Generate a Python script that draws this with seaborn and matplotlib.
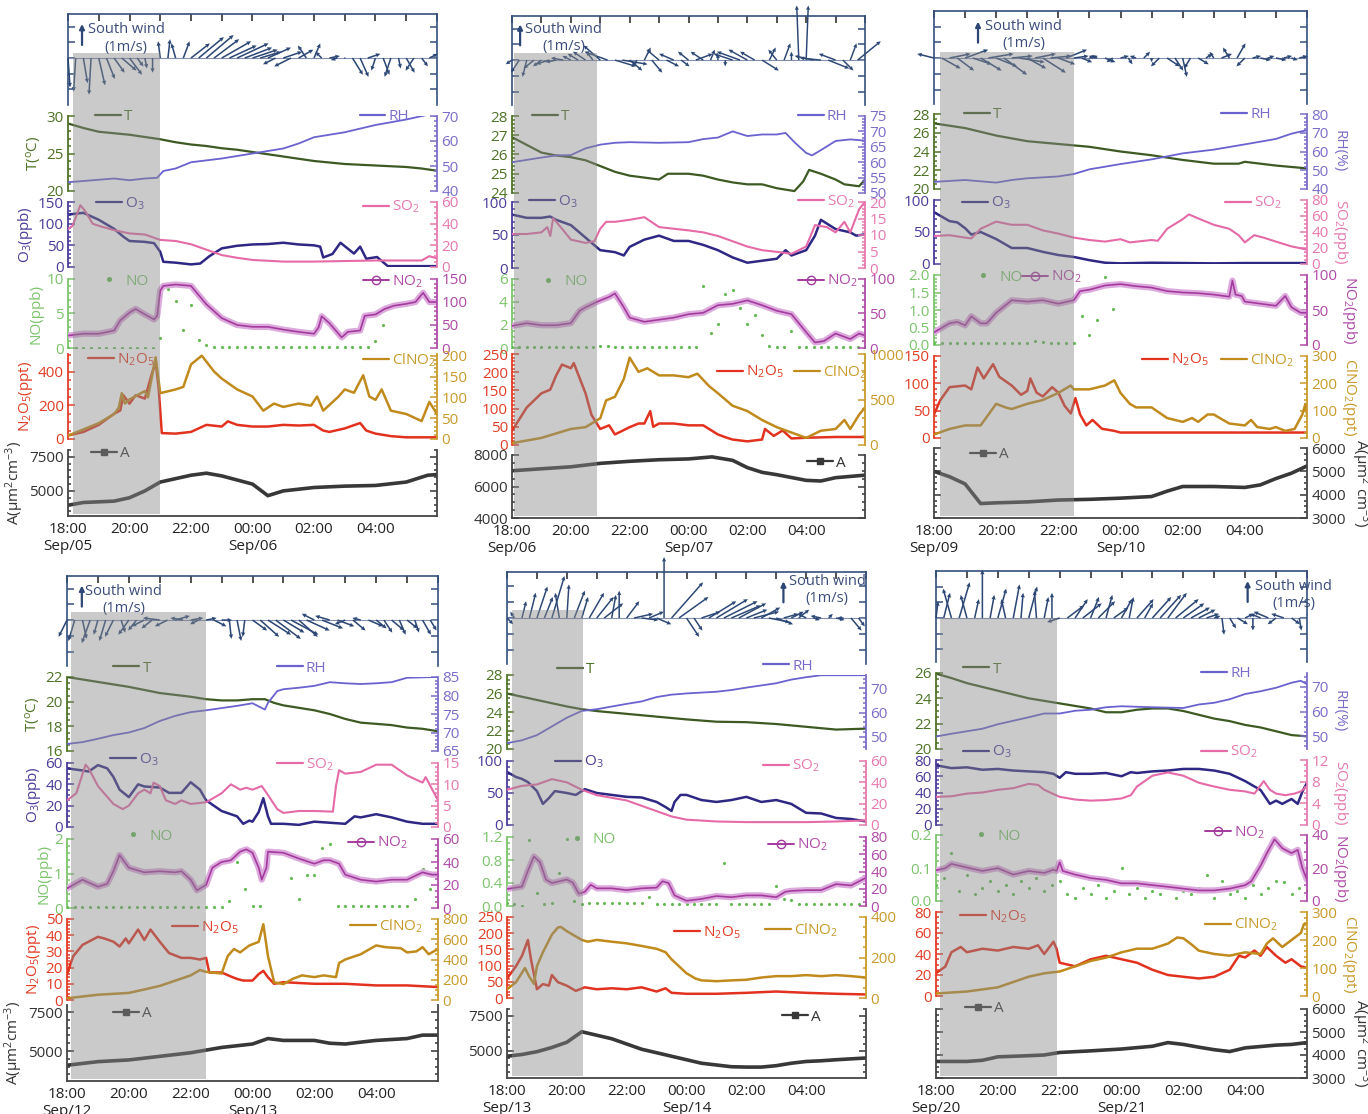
import numpy as np
import pandas as pd
import matplotlib
matplotlib.use("Agg")
import matplotlib.pyplot as plt
import matplotlib.transforms as mtransforms
from matplotlib.lines import Line2D
from matplotlib.patches import Rectangle
from matplotlib.ticker import MultipleLocator, AutoMinorLocator, FuncFormatter, FormatStrFormatter
import seaborn as sns

sns.set_style("white")
plt.rcParams["font.family"] = ["Open Sans", "DejaVu Sans"]
plt.rcParams["mathtext.default"] = "regular"
plt.rcParams["font.size"] = 11

nan = np.nan

# ---------------------------------------------------------------------------
# Night 1: Sep/05 18:00 - Sep/06 06:00   (hour after 18:00, value)
# ---------------------------------------------------------------------------
t_0905 = [(0, 29.0), (0.5, 28.4), (1, 27.9), (1.5, 27.7), (2, 27.5), (2.5, 27.2), (3, 26.9), (3.5, 26.5),
          (4, 26.2), (4.5, 26.0), (5, 25.7), (5.5, 25.5), (6, 25.2), (6.5, 24.9), (7, 24.6), (7.5, 24.3),
          (8, 24.0), (8.5, 23.8), (9, 23.6), (9.5, 23.5), (10, 23.4), (10.5, 23.3), (11, 23.2), (11.5, 23.0), (12, 22.7)]
rh_0905 = [(0, 43.5), (1, 44.5), (1.5, 45.0), (2, 44.3), (2.5, 45.0), (2.9, 45.3), (3.1, 48.0), (3.5, 49.0), (4, 51.5),
           (5, 53.0), (6, 55.0), (7, 57.0), (7.5, 59.0), (8, 61.5), (9, 63.5), (10, 66.4), (11, 68.6), (11.7, 70.5), (12, 70.0)]
o3_0905 = [(0, 121), (0.5, 125), (1, 109), (1.5, 88), (1.8, 70), (2, 60), (2.5, 58), (2.8, 55), (3.0, 35), (3.1, 12),
           (3.5, 10), (4.0, 6), (4.3, 8), (4.6, 25), (5, 43), (5.5, 49), (6, 52), (6.5, 53), (7, 56), (7.5, 52), (8, 50),
           (8.2, 47), (8.3, 22), (8.6, 30), (8.86, 56), (9.3, 31), (9.5, 47), (9.7, 19), (10.05, 23), (10.4, 2), (12, 2)]
so2_0905 = [(0, 35), (0.15, 38), (0.4, 57), (0.55, 52), (0.8, 40), (1, 38), (1.5, 34), (2, 31), (2.5, 30), (3, 25),
            (3.5, 24), (4, 21), (4.5, 16), (5, 11), (5.5, 8.5), (6, 6.5), (7, 5), (8, 5), (9, 5.5), (10, 6), (11, 6),
            (11.5, 6), (11.75, 10), (12, 8)]
no_0905 = [0.05, 0.05, 0.05, 0.05, 0.05, 0.05, 0.05, 0.05, 0.05, 0.05, 0.05, 0.05,
           1.5, 8.5, 6.8, 2.6, 6.2, 1.2, 0.4, 0.2,
           0.1, 0.1, 0.1, 0.1, 0.1, 0.1, 0.1, 0.1, 0.1, 0.1,
           0.1, 0.1, 0.1, 0.1, 0.1, 0.1, 0.1, 0.1, 0.1, 0.1,
           1.0, 3.3, nan, nan, nan, nan, nan, nan, nan]
no2_0905 = [(0, 27), (0.5, 31), (1, 31), (1.5, 38), (1.7, 60), (2, 77), (2.2, 85), (2.5, 73), (2.8, 62), (2.9, 70),
            (3.0, 125), (3.1, 135), (3.5, 138), (4.0, 135), (4.5, 95), (5, 65), (5.5, 50), (6, 46), (6.5, 46), (7, 40),
            (7.5, 35), (8, 31), (8.15, 45), (8.25, 69), (8.5, 54), (8.9, 23), (9.1, 35), (9.5, 38), (9.65, 70), (10, 73),
            (10.3, 85), (10.6, 92), (11, 96), (11.3, 100), (11.55, 120), (11.75, 100), (12, 100)]
n2o5_0905 = [(0, 21), (0.5, 42), (1, 84), (1.5, 150), (1.7, 170), (1.8, 260), (2.0, 210), (2.2, 260), (2.5, 240),
             (2.7, 370), (2.85, 460), (2.95, 300), (3.05, 35), (3.5, 32), (4, 42), (4.5, 84), (5, 74), (5.2, 105),
             (5.5, 84), (6, 74), (6.5, 74), (7, 84), (7.5, 80), (8, 84), (8.3, 50), (8.5, 42), (9, 63), (9.5, 95),
             (9.7, 50), (10, 32), (10.5, 17), (11, 10), (12, 10)]
clno2_0905 = [(0, 8), (1, 38), (1.5, 60), (1.65, 75), (1.75, 110), (1.85, 85), (2, 95), (2.5, 115), (2.6, 100),
              (2.85, 196), (3.0, 110), (3.5, 119), (3.75, 125), (4, 179), (4.35, 200), (4.75, 162), (5, 145),
              (5.5, 119), (6, 102), (6.35, 68), (6.7, 85), (7, 77), (7.5, 85), (7.9, 80), (8.1, 102), (8.3, 68),
              (8.8, 102), (9, 119), (9.3, 111), (9.6, 153), (9.8, 102), (10, 94), (10.2, 119), (10.5, 68), (11, 60),
              (11.5, 43), (11.75, 89), (12, 60)]
a_0905 = [(0, 3950), (0.5, 4150), (1, 4200), (1.5, 4250), (2, 4500), (2.5, 5000), (3, 5650), (4, 6150), (4.5, 6300),
          (5, 6100), (6, 5500), (6.5, 4650), (7, 5000), (8, 5250), (9, 5350), (10, 5400), (11, 5650), (11.7, 6150), (12, 6200)]
u_0905 = [0.1, -0.1, 0.2, -0.1, 0.3, 0.4, 0.5, 0.7, 0.6, 0.3, 0.1, 0.0, -0.1, 0.1, -0.2, 0.3, 0.9, 1.2, 1.3, 1.2,
          1.4, 1.3, 1.5, 1.3, 1.2, 1.0, 1.1, -0.6, 0.9, -0.8, 0.7, -0.4, 0.3, -0.3, 0.5, -0.3, 0.0, 0.5, 0.4, 0.6,
          -0.2, 0.3, -0.3, 0.1, 0.4, -0.4, 0.3, 0.4]
v_0905 = [-1.4, -1.6, -1.2, -1.75, -1.3, -1.0, -0.7, -0.6, -0.8, -0.4, -0.5, -0.7, 0.8, 0.9, 0.7, 0.8, 0.7, 1.0,
          1.1, 0.9, 0.8, 0.6, 0.7, 0.5, 0.4, 0.3, 0.5, -0.3, 0.3, -0.4, 0.4, 0.6, 0.7, 0.3, 0.1, -0.1, 0.0, -0.8,
          -0.9, 0.2, -0.6, -0.8, -0.9, -0.5, -0.7, -0.6, -0.4, 0.2]

# ---------------------------------------------------------------------------
# Night 2: Sep/06 - Sep/07
# ---------------------------------------------------------------------------
t_0906 = [(0, 26.9), (0.5, 26.5), (1, 26.1), (1.5, 25.95), (2, 25.86), (2.5, 25.7), (3, 25.4), (3.5, 25.1), (4, 24.9),
          (4.5, 24.8), (5, 24.7), (5.3, 25.0), (6, 25.0), (6.5, 24.9), (7, 24.7), (7.5, 24.55), (8, 24.45), (8.5, 24.45),
          (9, 24.25), (9.6, 24.1), (9.9, 24.6), (10.1, 25.2), (10.5, 25.0), (11, 24.7), (11.3, 24.45), (11.8, 24.35), (12, 24.7)]
rh_0906 = [(0, 60), (1, 61.5), (1.5, 62.2), (2, 62.3), (2.5, 64.5), (3, 65.7), (3.5, 66.3), (4, 66.5), (5, 66.3),
           (6, 66.5), (6.5, 67.5), (7, 68), (7.5, 70), (8, 68.5), (8.5, 69), (9, 69), (9.3, 69.5), (9.6, 66.5),
           (10, 63), (10.2, 62.2), (10.6, 64.5), (11, 66.9), (11.5, 67.4), (12, 67)]
o3_0906 = [(0, 81), (0.5, 76), (1, 76), (1.3, 78), (1.5, 73), (2, 65), (2.5, 46), (3, 27), (3.5, 24), (3.8, 19),
           (4, 32), (4.5, 43), (5, 49), (5.5, 41), (6, 41), (6.5, 35), (7, 27), (7.5, 16), (8, 8), (8.5, 11), (9, 14),
           (9.3, 27), (9.5, 19), (10, 27), (10.3, 49), (10.5, 73), (11, 59), (11.5, 54), (11.7, 49), (12, 51)]
so2_0906 = [(0, 10.3), (0.5, 10.3), (1, 10.8), (1.2, 12.4), (1.3, 9.7), (1.4, 15.1), (1.7, 11.9), (2, 8.6), (2.5, 7.6),
            (2.8, 8.1), (3, 11.9), (3.2, 14), (3.5, 14), (4, 14.6), (4.5, 15.4), (5, 12.4), (5.5, 11.9), (6, 11.4),
            (6.5, 10.8), (7, 9.7), (7.5, 8.1), (8, 6.5), (8.5, 5.4), (9, 4.9), (9.5, 4.3), (10, 6.5), (10.3, 13),
            (10.7, 12.4), (11, 10.8), (11.3, 14), (11.5, 10.8), (11.8, 17.8), (12, 20)]
no_0906 = [0.05, 0.05, 0.05, 0.05, 0.05, 0.05, 0.05, 0.05, 0.05, 0.05, 0.05, 0.05,
           0.15, 0.2,
           0.05, 0.05, 0.05, 0.05, 0.05, 0.05, 0.05, 0.05, 0.05, 0.05, 0.05, 0.05,
           5.4, 1.3, 2.1, 4.7, 5.0, 3.5, 2.1, 2.9, 1.1,
           0.2, 0.05, 0.05, 1.5,
           0.05, 0.05, 0.05, 0.05, 0.05, 0.05, 0.05, 0.05, 0.05, 0.05]
no2_0906 = [(0, 32), (0.5, 36), (1, 33), (1.5, 33), (2, 36), (2.3, 54), (2.5, 59), (3, 69), (3.3, 74), (3.5, 79),
            (3.8, 59), (4, 44), (4.5, 38), (5, 41), (5.5, 44), (6, 49), (6.5, 51), (7, 62), (7.5, 64), (8, 69),
            (8.5, 62), (9, 54), (9.5, 49), (10, 23), (10.3, 8), (10.6, 10), (11, 21), (11.5, 13), (11.8, 21), (12, 18)]
n2o5_0906 = [(0, 39), (0.5, 103), (1, 142), (1.3, 152), (1.5, 191), (1.7, 221), (2, 211), (2.1, 225), (2.5, 142),
             (2.7, 83), (3, 44), (3.3, 54), (3.5, 29), (4, 49), (4.3, 59), (4.5, 59), (4.7, 93), (4.8, 50), (5, 59),
             (5.5, 59), (6, 54), (6.5, 54), (7, 29), (7.3, 20), (7.5, 15), (8, 10), (8.5, 15), (8.6, 44), (8.9, 25),
             (9.2, 40), (9.5, 18), (10, 20), (11, 22), (12, 22)]
clno2_0906 = [(0, 20), (1, 78), (2, 176), (2.5, 196), (3, 294), (3.2, 490), (3.5, 530), (3.8, 725), (4, 960),
              (4.3, 804), (4.6, 843), (5, 765), (5.5, 765), (6, 745), (6.3, 784), (6.7, 647), (7, 569), (7.5, 431),
              (8, 373), (8.5, 275), (9, 196), (9.5, 137), (10, 78), (10.5, 157), (11, 176), (11.3, 275), (11.5, 176),
              (11.8, 333), (12, 412)]
a_0906 = [(0, 7000), (2, 7250), (3, 7470), (4, 7600), (5, 7700), (6, 7750), (6.8, 7880), (7.5, 7660), (8, 7200),
          (8.5, 6900), (9, 6750), (10, 6390), (10.5, 6350), (11, 6560), (12, 6720)]
u_0906 = [-0.3, -0.4, -0.2, -0.5, -0.4, -0.6, -0.5, -0.6, -0.4, -0.5, -0.6, -0.3, -0.8, -1.1, 1.0, 1.2, 0.6, -0.2,
          0.3, 0.5, -0.6, 0.6, -0.7, 0.4, -0.5, 0.8, -0.6, 0.2, 0.0, 0.0, -0.9, -1.1, -0.9, -0.7, 0.8, 0.3, -0.4,
          0.3, 0.0, -0.1, 0.1, -0.9, -1.0, 1.0, -0.8, 0.5, 0.3, 1.1]
v_0906 = [-0.2, -0.6, -0.8, -0.4, -0.3, -0.2, -0.1, 0.1, 0.2, 0.3, 0.4, 0.4, 0.7, 0.4, -0.3, -0.2, -0.5, -0.3, 0.6,
          -0.6, 0.5, -0.3, 0.3, -0.3, 0.4, 0.3, 0.4, 0.5, 0.3, -0.3, 0.3, 0.4, 0.5, 0.4, -0.5, 0.6, 0.5, 0.8, 0.4,
          2.6, 2.6, 0.2, 0.1, -0.4, 0.3, -0.5, 0.8, 0.9]

# ---------------------------------------------------------------------------
# Night 3: Sep/09 - Sep/10
# ---------------------------------------------------------------------------
t_0909 = [(0, 27.0), (1, 26.5), (2, 25.7), (3, 25.1), (4, 24.8), (5, 24.5), (6, 24.0), (7, 23.6), (8, 23.1),
          (9, 22.7), (9.8, 22.7), (10, 22.9), (10.5, 22.7), (11, 22.5), (12, 22.2)]
rh_0909 = [(0, 43.8), (1, 44.8), (2, 43.4), (2.5, 44.8), (3, 45.7), (4, 46.7), (4.5, 48), (5, 50.5), (6, 53.3),
           (7, 55.8), (8, 59), (9, 61), (10, 63.8), (11, 66.7), (11.5, 69.5), (12, 71.4)]
o3_0909 = [(0, 81), (0.5, 67), (0.75, 65), (1, 56), (1.2, 46), (1.5, 50), (2, 39), (2.5, 25), (3, 25), (3.5, 19),
           (4, 14), (4.5, 11), (5, 6), (5.5, 2), (6, 1), (7, 2), (8, 1.5), (9, 1), (10, 1.5), (12, 1.5)]
so2_0909 = [(0, 35), (0.5, 36), (1, 33), (1.2, 32), (1.5, 44), (2, 53), (2.5, 49), (3, 49), (3.5, 42), (4, 38),
            (4.5, 33), (5, 30), (5.5, 28), (6, 31), (6.3, 27), (7, 30), (7.2, 29), (7.5, 44), (8, 56), (8.2, 62),
            (8.5, 57), (9, 49), (9.5, 44), (9.8, 36), (10, 27), (10.3, 36), (10.6, 33), (11, 28), (11.5, 22), (12, 18)]
no_0909 = [0.05, 0.05, 0.05, 0.05, 0.05, 0.05, 0.05, 0.05, 0.05, 0.05, 0.05, 0.05, 0.05,
           0.12, 0.1, 0.05, 0.05, 0.05, 0.05,
           0.82, 0.3, 0.72, 1.95, 1.03,
           nan, nan, nan, nan, nan, nan, nan, nan, nan, nan, nan, nan, nan,
           nan, nan, nan, nan, nan, nan, nan, nan, nan, nan, nan, nan]
no2_0909 = [(0, 18), (0.5, 31), (0.75, 33), (1, 28), (1.2, 41), (1.5, 31), (1.7, 31), (2, 46), (2.5, 64), (3, 62),
            (3.5, 64), (4, 59), (4.5, 64), (4.7, 77), (5, 79), (5.5, 85), (6, 87), (6.5, 84), (7, 82), (7.5, 77),
            (8, 75), (8.5, 74), (9, 72), (9.5, 69), (9.6, 92), (9.7, 72), (9.9, 70), (10, 62), (10.5, 59), (11, 56),
            (11.3, 70), (11.5, 54), (11.8, 46), (12, 46)]
n2o5_0909 = [(0, 43), (0.2, 69), (0.5, 93), (1, 96), (1.2, 89), (1.4, 129), (1.6, 109), (1.9, 135), (2.1, 112),
             (2.5, 96), (2.8, 79), (3, 86), (3.1, 109), (3.3, 83), (3.5, 76), (3.8, 93), (4, 83), (4.2, 59), (4.4, 45),
             (4.55, 73), (4.7, 43), (4.9, 23), (5.1, 33), (5.4, 17), (5.8, 13), (6, 10), (12, 10)]
clno2_0909 = [(0, 13), (0.5, 33), (1, 46), (1.5, 46), (2, 125), (2.3, 112), (2.5, 106), (3, 125), (3.5, 139),
              (4, 165), (4.4, 192), (4.5, 178), (5, 178), (5.5, 192), (5.8, 211), (6, 165), (6.3, 125), (6.5, 112),
              (7, 112), (7.5, 73), (8, 59), (8.3, 73), (8.5, 59), (8.8, 86), (9, 86), (9.3, 66), (9.5, 53), (10, 46),
              (10.2, 66), (10.4, 40), (10.8, 33), (11, 40), (11.3, 26), (11.6, 33), (11.85, 86), (11.95, 125), (12, 86)]
a_0909 = [(0, 5000), (0.5, 4770), (1, 4460), (1.5, 3620), (2, 3650), (3, 3690), (4, 3770), (5, 3800), (6, 3850),
          (7, 3920), (7.5, 4150), (8, 4350), (9, 4350), (10, 4310), (10.5, 4420), (11, 4690), (11.5, 4920), (12, 5230)]
u_0909 = [-0.8, 0.9, 1.0, 0.8, 1.1, 0.9, 1.0, 1.2, 1.0, 1.1, 1.0, 1.2, 0.9, 1.0, 1.1, 1.0, 0.8, 1.0, 0.7, 0.5,
          0.4, -0.4, 0.5, -0.3, 0.4, 0.2, -0.3, 0.3, 0.0, -0.4, 0.6, 0.4, 0.2, -0.3, 0.5, 0.3, -0.2, 0.5, -0.3,
          0.4, -0.4, 0.4, 0.5, 0.3, 0.5, 0.4, 0.3, 0.4]
v_0909 = [0.2, -0.5, 0.2, -0.6, 0.4, -0.3, -0.6, 0.2, -0.4, -0.8, 0.1, -0.2, -0.5, 0.2, -0.7, 0.1, -0.3, 0.4, 0.1,
          -0.2, 0.1, 0.1, -0.2, -0.2, 0.1, -0.3, 0.1, 0.3, -0.2, -0.4, -0.4, -0.6, -0.9, -0.5, -0.3, 0.2, 0.3, 0.2,
          0.5, 0.7, -0.4, 0.1, -0.1, 0.1, -0.1, 0.1, -0.1, 0.1]

# ---------------------------------------------------------------------------
# Night 4: Sep/12 - Sep/13
# ---------------------------------------------------------------------------
t_0912 = [(0, 22.0), (1, 21.6), (2, 21.2), (3, 20.7), (4, 20.4), (4.5, 20.2), (5, 20.1), (5.5, 20.1), (6, 20.2),
          (6.4, 20.2), (6.7, 19.9), (7, 19.7), (7.5, 19.5), (8, 19.3), (8.5, 19.0), (9, 18.6), (9.5, 18.3), (10, 18.2),
          (10.5, 18.1), (11, 17.9), (11.5, 17.8), (12, 17.6)]
rh_0912 = [(0, 66.9), (0.5, 67.4), (1, 68.3), (1.5, 69.3), (2, 70), (2.5, 71.2), (3, 73.1), (3.5, 74.5), (4, 75.5),
           (4.5, 76), (5, 76.6), (5.5, 77.2), (6, 77.9), (6.4, 76.2), (6.5, 78), (6.8, 81.2), (7, 81.7), (7.5, 82.1),
           (8, 82.6), (8.5, 83.6), (9, 83.3), (9.5, 83.1), (10, 83.3), (10.5, 83.6), (11, 84.8), (12, 85)]
o3_0912 = [(0, 55), (0.5, 53), (0.7, 52), (1, 58), (1.3, 55), (1.5, 47), (1.7, 35), (2, 28), (2.3, 40), (2.5, 38),
           (3, 37), (3.3, 32), (3.7, 32), (4, 42), (4.3, 35), (4.5, 25), (5, 15), (5.5, 10), (5.7, 3), (5.9, 6),
           (6.0, 5), (6.2, 14), (6.35, 27), (6.5, 10), (6.6, 3), (7, 3), (7.5, 2), (8, 5), (8.5, 4), (9, 3), (9.3, 10),
           (9.5, 9), (10, 12), (10.5, 9), (11, 5), (11.5, 3), (12, 3)]
so2_0912 = [(0, 6.25), (0.3, 7.9), (0.6, 14.6), (0.7, 13.75), (1, 9.6), (1.5, 5.4), (1.8, 4.2), (2, 5), (2.3, 7.9),
            (2.5, 8.75), (2.7, 7.9), (2.8, 10.4), (3, 9.6), (3.2, 6.25), (3.5, 5.4), (3.7, 6.25), (4, 5.4), (4.5, 5.8),
            (5, 7.9), (5.3, 10), (5.6, 8.75), (5.8, 9.2), (6, 8.75), (6.3, 9.6), (6.5, 7.5), (6.8, 4.2), (7, 3.3),
            (7.5, 3.75), (8, 3.75), (8.6, 3.6), (8.7, 9.6), (8.8, 13.3), (9, 12.5), (9.5, 12.9), (10, 14.6),
            (10.5, 14.6), (11, 12.1), (11.5, 10.4), (11.6, 11.7), (12, 6.25)]
no_0912 = [0.03, 0.03, 0.03, 0.03, 0.03, 0.03, 0.03, 0.03, 0.03, 0.03, 0.03, 0.03, 0.03, 0.03, 0.03, 0.03, 0.03,
           0.03, 0.03, 0.03, 0.03,
           0.2, 1.33, 0.56, 0.05, 0.05,
           nan, nan, nan,
           0.87, 0.26, 0.97, 0.97, 1.74, 1.85,
           0.05, 0.05, 0.05, 0.05, 0.05, 0.05, 0.05, 0.05, 0.05, 0.05,
           0.26, 1.13, 0.56, 0.05]
no2_0912 = [(0, 17), (0.5, 24.6), (1, 18.5), (1.3, 21), (1.5, 32), (1.7, 46), (2, 35), (2.5, 31), (3, 32), (3.5, 31),
            (3.7, 32), (4, 24.6), (4.2, 15.4), (4.5, 20), (4.7, 35), (5, 40), (5.3, 41.5), (5.6, 49), (5.8, 51),
            (6, 48), (6.2, 35), (6.3, 24.6), (6.45, 35), (6.5, 49), (7, 48), (7.5, 43), (8, 38.5), (8.3, 41.5),
            (8.5, 41.5), (8.8, 38.5), (9, 29), (9.5, 24.6), (10, 23), (10.5, 24.6), (11, 24.6), (11.5, 31),
            (11.8, 29), (12, 29)]
n2o5_0912 = [(0, 16), (0.2, 27), (0.5, 34), (1, 39), (1.2, 38), (1.5, 36), (1.7, 33), (1.9, 38), (2, 35), (2.3, 43.5),
             (2.5, 37), (2.7, 43.5), (3, 36), (3.3, 29), (3.7, 26), (4, 26), (4.3, 25), (4.5, 26), (4.6, 17), (5, 17),
             (5.3, 14.5), (5.5, 13), (5.7, 12), (6, 12), (6.2, 16), (6.35, 18), (6.5, 14), (6.7, 10), (7, 11),
             (8, 10), (9, 10), (10, 9), (11, 9), (12, 8)]
clno2_0912 = [(0, 17), (1, 52), (2, 70), (2.5, 104), (3, 139), (3.5, 191), (4, 243), (4.3, 296), (4.5, 278),
              (5, 261), (5.2, 435), (5.4, 504), (5.6, 470), (5.9, 539), (6.2, 574), (6.35, 748), (6.5, 435),
              (6.7, 174), (7, 157), (7.3, 209), (7.6, 243), (8, 226), (8.3, 243), (8.7, 226), (8.8, 365), (9, 400),
              (9.5, 452), (10, 539), (10.3, 522), (10.8, 511), (11, 470), (11.3, 480), (11.5, 522), (11.7, 452), (12, 504)]
a_0912 = [(0, 4090), (1, 4320), (2, 4430), (3, 4660), (4, 4890), (5, 5230), (6, 5450), (6.5, 5800), (7, 5680),
          (8, 5680), (8.5, 5500), (9, 5450), (9.5, 5570), (10, 5680), (11, 5800), (11.5, 6020), (12, 6020)]
u_0912 = [-0.4, -0.3, 0.2, -0.4, -0.2, -0.3, -0.4, 0.2, -0.5, -0.4, -0.6, -0.5, -0.8, -0.6, 0.7, -0.6, 0.6, -0.4,
          0.5, 0.6, 0.5, 0.1, 0.2, -0.1, 0.7, 0.9, 1.1, 1.2, 1.0, 1.3, 0.9, 1.1, -0.6, 1.0, -0.7, 0.8, -0.5, 0.6,
          -0.4, 0.7, 0.5, 0.4, 0.6, 0.3, 0.5, 0.2, 0.4, 0.3]
v_0912 = [-0.8, -1.0, -0.9, -1.1, -0.7, -1.0, -0.8, -0.6, -0.7, -0.5, -0.3, -0.4, 0.1, -0.3, 0.2, 0.1, 0.1, -0.2,
          0.1, -0.3, 0.0, -0.9, -1.0, -0.8, -0.5, -0.8, -0.7, -0.9, -0.6, -0.7, -0.8, -0.5, 0.3, -0.4, 0.2, -0.3,
          -0.2, -0.5, 0.1, -0.3, -0.4, -0.6, -0.5, -0.7, -0.4, -0.6, -0.7, -0.5]

# ---------------------------------------------------------------------------
# Night 5: Sep/13 - Sep/14
# ---------------------------------------------------------------------------
t_0913 = [(0, 26.0), (1, 25.3), (2, 24.6), (2.5, 24.3), (3, 24.1), (4, 23.8), (5, 23.5), (6, 23.2), (7, 22.95),
          (8, 22.9), (9, 22.7), (10, 22.4), (11, 22.1), (12, 22.2)]
rh_0913 = [(0, 47.4), (0.5, 48.6), (1, 50.7), (1.5, 54.3), (2, 57.9), (2.5, 60.7), (3, 61.4), (4, 63.6), (4.5, 64.6),
           (5, 66.4), (5.5, 67.4), (6, 67.9), (7, 68.6), (7.5, 69.3), (8, 70.3), (9, 72.1), (9.5, 73.6), (10, 74.6),
           (10.5, 75.4), (12, 75.4)]
o3_0913 = [(0, 83), (0.3, 75), (0.5, 72), (0.7, 67), (1, 53), (1.2, 33), (1.4, 42), (1.6, 53), (2, 50), (2.3, 47),
           (2.6, 56), (3, 50), (3.5, 47), (4, 44), (4.5, 43), (5, 36), (5.3, 28), (5.5, 22), (5.6, 36), (5.8, 47),
           (6, 47), (6.5, 39), (7, 36), (7.5, 39), (8, 44), (8.5, 36), (9, 39), (9.5, 33), (10, 19), (10.5, 18),
           (11, 11), (11.5, 9.4), (12, 5.6)]
so2_0913 = [(0, 33), (0.5, 36.7), (1, 38), (1.5, 43), (2, 40), (2.5, 33), (3, 28), (4, 23), (4.5, 18), (5, 13),
            (5.5, 8), (6, 5), (7, 3.3), (8, 2.7), (9, 2.7), (10, 2.7), (11, 3.3), (12, 4.3)]
no_0913 = [0.05, 0.03, 0.0, 1.14, 0.22, 0.03, 0.05, 0.58, 1.17, 0.08, 0.04,
           0.05, 0.05, 0.05, 0.05, 0.05, 0.05, 0.05, 0.05,
           0.15,
           0.03, 0.03, 0.03, 0.03, 0.03, 0.03, 0.03, 0.03, 0.03,
           0.75,
           0.03, 0.03, 0.03, 0.03, 0.03, 0.03,
           0.34, 0.12, 0.1,
           0.03, 0.03, 0.03, 0.03, 0.03, 0.03, 0.03, 0.03, 0.03, 0.03]
no2_0913 = [(0, 19.7), (0.5, 22.5), (0.7, 41), (0.9, 57.4), (1.1, 51), (1.3, 30.7), (1.5, 26.6), (2, 30.7), (2.2, 27),
            (2.4, 14.3), (2.6, 16.4), (2.8, 24.6), (3, 20.5), (3.5, 20.5), (4, 18.4), (4.5, 20.5), (5, 21.3),
            (5.2, 28.7), (5.4, 26.6), (5.6, 12.3), (6, 6.1), (6.5, 8.2), (7, 11.5), (7.5, 10.2), (8, 12.3),
            (8.5, 12.3), (9, 10.2), (9.3, 16.4), (9.5, 17.5), (10, 18.4), (10.5, 18.4), (11, 25.4), (11.5, 23.8), (12, 32.8)]
n2o5_0913 = [(0, 60), (0.3, 98), (0.5, 130), (0.7, 179), (0.8, 120), (1.0, 27), (1.2, 43), (1.4, 38), (1.5, 71),
             (1.7, 49), (2, 38), (2.3, 22), (2.6, 33), (3, 27), (3.5, 30), (4, 27), (4.5, 33), (5, 20), (5.3, 30),
             (5.5, 16), (6, 13), (7, 13), (8, 16), (9, 20), (10, 16), (11, 13), (12, 11)]
clno2_0913 = [(0, 43), (0.3, 78), (0.6, 148), (0.75, 104), (0.9, 70), (1.0, 157), (1.2, 226), (1.5, 313), (1.7, 348),
              (1.8, 351), (2, 330), (2.3, 304), (2.5, 287), (2.7, 278), (3, 287), (3.5, 278), (4, 270), (4.5, 257),
              (5, 243), (5.3, 226), (5.5, 191), (6, 122), (6.3, 96), (6.5, 87), (7, 83), (7.5, 87), (8, 90),
              (8.5, 101), (9, 108), (9.5, 108), (10, 113), (10.5, 108), (11, 113), (11.5, 108), (12, 101)]
a_0913 = [(0, 4625), (0.5, 4750), (1, 4950), (1.5, 5250), (2, 5625), (2.5, 6375), (3, 6125), (3.5, 5875), (4, 5500),
          (4.5, 5125), (5, 4875), (5.5, 4625), (6, 4375), (6.5, 4125), (7, 4000), (7.5, 3875), (8, 3850),
          (8.5, 3850), (9, 3950), (9.5, 4125), (10, 4250), (10.5, 4300), (11, 4375), (12, 4500)]
u_0913 = [0.3, -0.2, 0.2, 0.3, 0.5, 0.4, 0.6, -0.2, 0.1, 0.5, 0.3, 0.7, 0.8, 0.9, 0.2, 0.0, 0.6, 0.9, 0.8, 0.7,
          0.7, 0.0, 1.5, 1.4, 0.6, 0.4, 0.9, 1.3, 1.5, 1.6, 1.4, 1.3, 1.0, 1.2, 0.9, 1.0, 0.8, 0.7, 0.6, 0.5, -0.4,
          0.3, -0.5, 0.2, 0.4, -0.3, 0.5, 0.3]
v_0913 = [-0.3, 0.3, 0.8, 1.2, 1.5, 1.0, 2.0, 1.2, 1.6, 1.3, 1.0, 1.2, 1.0, 0.7, 1.1, 1.3, 0.8, 0.2, -0.1, 0.3,
          -0.3, 2.9, 1.7, 1.0, -0.9, -0.6, 0.3, 0.8, 0.9, 0.8, 0.6, 0.7, 0.4, 0.3, 0.5, -0.2, -0.3, 0.2, 0.3, 0.4,
          0.2, -0.1, 0.1, 0.2, -0.1, 0.0, -0.6, -0.4]

# ---------------------------------------------------------------------------
# Night 6: Sep/20 - Sep/21
# ---------------------------------------------------------------------------
t_0920 = [(0, 25.95), (0.5, 25.6), (1, 25.2), (1.5, 24.9), (2, 24.6), (2.5, 24.3), (3, 24.0), (3.5, 23.8), (4, 23.6),
          (4.5, 23.4), (5, 23.2), (5.5, 22.9), (6, 22.9), (6.5, 23.1), (7, 23.2), (7.5, 23.2), (8, 23.0), (8.5, 22.7),
          (9, 22.4), (9.5, 22.2), (10, 21.9), (10.5, 21.7), (11, 21.4), (11.5, 21.1), (12, 21.0)]
rh_0920 = [(0, 50), (0.5, 51.1), (1, 52.1), (1.5, 53.1), (2, 54.9), (2.5, 56.3), (3, 57.7), (3.5, 59.2), (4, 59.2),
           (4.5, 60.3), (5, 60.7), (5.5, 61.7), (6, 62.1), (7, 61.7), (8, 61.4), (8.5, 62.8), (9, 63.5), (9.5, 64.9),
           (10, 67), (10.5, 68.1), (11, 69.5), (11.5, 71.5), (11.8, 72.3), (12, 70.9)]
o3_0920 = [(0, 73.5), (0.5, 70), (1, 71), (1.5, 68), (2, 69), (2.5, 67), (3, 66), (3.5, 65), (3.8, 63), (4, 58),
           (4.2, 65), (4.5, 63), (5, 63), (5.5, 64), (6, 60), (6.3, 65), (6.5, 64), (7, 66), (7.5, 67), (8, 69),
           (8.5, 69), (9, 67), (9.5, 63), (10, 54), (10.5, 43), (10.8, 26), (11, 30), (11.2, 26), (11.5, 32),
           (11.7, 26), (11.85, 41), (12, 52)]
so2_0920 = [(0, 5.2), (0.5, 5.3), (1, 5.8), (1.5, 6.0), (2, 6.5), (2.5, 6.8), (3, 7.6), (3.3, 7.4), (3.5, 6.5),
            (4, 5.2), (4.5, 4.7), (5, 4.5), (5.5, 4.6), (6, 4.9), (6.3, 5.5), (6.5, 7.1), (7, 9.1), (7.5, 9.7),
            (8, 9.1), (8.5, 7.8), (9, 7.1), (9.5, 6.5), (10, 6.2), (10.3, 5.8), (10.6, 8.1), (10.8, 6.5), (11, 5.8),
            (11.3, 5.5), (11.6, 5.8), (11.8, 6.2), (12, 7.1)]
no_0920 = [0.05, 0.07, 0.144, 0.03, 0.08, 0.02, 0.04, 0.06, 0.03, 0.05,
           0.02, 0.06, 0.04, 0.07, 0.03, 0.05, 0.06, 0.02, 0.01, 0.04,
           0.02, 0.05, 0.01, 0.03, 0.1, 0.02, 0.04, 0.01, 0.03, 0.02,
           0.05, 0.01, 0.03, 0.02, 0.04, 0.08, 0.01, 0.06, 0.02, 0.03,
           0.01, 0.05, 0.02, 0.04, 0.06, 0.059, 0.02, 0.04, 0.03]
no2_0920 = [(0, 18.6), (0.3, 19.9), (0.5, 22.5), (1, 20.3), (1.5, 18.2), (2, 19.9), (2.5, 16), (3, 18.2), (3.5, 17),
            (3.8, 19), (3.9, 18.2), (4, 23.5), (4.1, 18.2), (4.5, 16), (5, 13.9), (5.5, 12.8), (6, 10.7), (6.5, 10.7),
            (7, 9.6), (7.5, 8.6), (8, 7.5), (8.5, 6.4), (9, 6.4), (9.5, 7.5), (10, 9.6), (10.2, 12), (10.5, 21.4),
            (10.7, 28.9), (10.95, 37.4), (11.2, 32), (11.5, 29), (11.7, 31), (11.85, 20), (12, 12.8)]
n2o5_0920 = [(0, 21.7), (0.3, 28), (0.5, 41.7), (0.8, 46.7), (1, 41.7), (1.5, 45), (2, 43.3), (2.5, 46.7), (3, 45),
             (3.3, 48.3), (3.5, 40), (3.8, 51.7), (3.9, 45), (4, 31.7), (4.5, 28.3), (5, 35), (5.5, 38.3), (6, 35),
             (6.5, 31.7), (7, 25), (7.5, 20), (8, 18.3), (8.5, 16.7), (9, 18.3), (9.5, 25), (9.8, 38.3), (10, 36.7),
             (10.3, 43.3), (10.5, 38.3), (10.7, 46.7), (11, 38.3), (11.3, 31.7), (11.5, 35), (11.8, 28.3), (12, 26.7)]
clno2_0920 = [(0, 9), (1, 16), (2, 31), (2.5, 50), (3, 69), (3.5, 81), (4, 87.5), (4.5, 106), (5, 125), (5.5, 137),
              (6, 156), (6.5, 169), (7, 169), (7.5, 187), (7.8, 209), (8, 206), (8.3, 181), (8.5, 162), (9, 150),
              (9.5, 144), (10, 156), (10.5, 150), (10.7, 187), (10.9, 206), (11.2, 175), (11.5, 200), (11.8, 225),
              (11.9, 256), (12, 256)]
a_0920 = [(0, 3720), (1, 3720), (1.5, 3770), (2, 3920), (3, 3970), (3.5, 4000), (4, 4110), (5, 4180), (6, 4260),
          (7, 4380), (7.5, 4540), (8, 4460), (8.5, 4340), (9, 4230), (9.5, 4150), (10, 4310), (11, 4430),
          (11.5, 4460), (12, 4540)]
u_0920 = [0.1, 0.3, -0.4, 0.5, -0.3, 0.2, 0.0, 0.2, 0.4, -0.2, 0.3, 0.1, 0.4, -0.1, 0.2, 0.0, -0.6, 0.8, 0.6, 0.9,
          0.4, 0.8, 0.3, 0.7, 0.5, 0.2, 0.8, 0.4, 0.9, 1.0, 0.9, 1.1, 1.0, 0.9, 0.8, 0.6, 0.3, 0.1, 0.3, 0.5, 0.4,
          0.0, -0.5, -0.7, -0.4, -0.6, 0.4, 0.1]
v_0920 = [0.8, 1.2, 1.4, 1.7, 1.1, 0.9, 2.3, 1.1, 1.4, 0.9, 1.6, 1.2, 1.5, 1.3, 1.0, 1.2, -0.2, 0.6, 0.9, 0.7, 1.0,
          0.8, 1.1, 0.5, 0.9, 1.0, 0.9, 0.7, 1.0, 1.1, 1.2, 0.9, 0.7, 0.5, 0.4, 0.2, 0.1, -0.8, -0.5, -0.3, 0.2,
          -0.6, 0.2, 0.3, -0.3, 0.2, -0.3, -0.6]

# time grids (hours after 18:00)
HOURS_NO = np.arange(49) * 0.25
HOURS_WIND = np.arange(48) * 0.25

# ---------------------------------------------------------------------------
# styling
# ---------------------------------------------------------------------------
COL = dict(T="#3d5a22", RH="#6a62cf", O3="#2e2784", SO2="#e56aa7", NO="#62bb52", NO2="#a43a9e",
           N2O5="#e2321f", ClNO2="#c08a1c", A="#383838")
TICK = dict(T="#4f7326", RH="#7b6dc9", O3="#4a3c9b", SO2="#e679af", NO="#7cc46c", NO2="#b04aa8",
            N2O5="#e23c25", ClNO2="#c99a2a", A="#333333")
LW = dict(T=1.6, RH=1.3, O3=1.8, SO2=1.5, N2O5=1.8, ClNO2=1.8, A=2.6)
NO2_BAND = "#dcaadc"
WIND = "#2c4775"
LABEL = dict(T="T", RH="RH", O3="O$_3$", SO2="SO$_2$", NO="NO", NO2="NO$_2$", N2O5="N$_2$O$_5$",
             ClNO2="ClNO$_2$", A="A")
YLAB_LEFT = dict(T="T($^o$C)", O3="O$_3$(ppb)", NO="NO(ppb)", N2O5="N$_2$O$_5$(ppt)", A="A(μm$^2$cm$^{-3}$)")
YLAB_RIGHT = dict(RH="RH(%)", SO2="SO$_2$(ppb)", NO2="NO$_2$(ppb)", ClNO2="ClNO$_2$(ppt)", A="A(μm$^2$ cm$^{-3}$)")
PAIRS = [("T", "RH"), ("O3", "SO2"), ("NO", "NO2"), ("N2O5", "ClNO2")]

PANELS = [
    dict(dates=("Sep/05", "Sep/06"), night=(0.15, 3.0),
         data=dict(T=t_0905, RH=rh_0905, O3=o3_0905, SO2=so2_0905, NO=no_0905, NO2=no2_0905,
                   N2O5=n2o5_0905, ClNO2=clno2_0905, A=a_0905), wind=(u_0905, v_0905),
         lims=dict(T=(20, 30, 5), RH=(40, 70, 10), O3=(0, 150, 50), SO2=(0, 60, 20), NO=(0, 10, 5),
                   NO2=(0, 150, 50), N2O5=(0, 505, 200), ClNO2=(0, 204, 50), A=(3160, 8000, 2500)),
         x=(68, 437), rows=dict(wind=(14, 105), T=(116, 191), O3=(202, 267), NO=(279, 348), N2O5=(354, 439), A=(450, 516)),
         wind_lim=(-2.24, 2.1), shade_top=0.25, key_arrow=(0.038, 0.66), key_text=(0.054, 0.73),
         keys=dict(T=(0.072, 0.99), RH=(0.79, 0.99), O3=(0.077, 0.97), SO2=(0.80, 0.92), NO=(0.077, 0.97),
                   NO2=(0.80, 0.96), N2O5=(0.054, 0.93), ClNO2=(0.80, 0.93), A=(0.063, 0.94)),
         a_side="left", labels="left"),
    dict(dates=("Sep/06", "Sep/07"), night=(0.08, 2.9),
         data=dict(T=t_0906, RH=rh_0906, O3=o3_0906, SO2=so2_0906, NO=no_0906, NO2=no2_0906,
                   N2O5=n2o5_0906, ClNO2=clno2_0906, A=a_0906), wind=(u_0906, v_0906),
         lims=dict(T=(24, 28, 1), RH=(50, 75, 5), O3=(0, 100, 50), SO2=(0, 20, 5), NO=(0, 6, 2),
                   NO2=(0, 100, 50), N2O5=(0, 250, 50), ClNO2=(0, 1000, 500), A=(4000, 8000, 2000)),
         x=(512, 865), rows=dict(wind=(16, 105), T=(116, 193), O3=(202, 268), NO=(279, 348), N2O5=(354, 445), A=(455, 518)),
         wind_lim=(-2.14, 2.1), shade_top=0.35, key_arrow=(0.023, 0.67), key_text=(0.038, 0.75),
         keys=dict(T=(0.057, 0.99), RH=(0.81, 0.99), O3=(0.047, 1.0), SO2=(0.81, 1.0), NO=(0.066, 0.96),
                   NO2=(0.81, 0.97), N2O5=(0.58, 0.80), ClNO2=(0.80, 0.80), A=(0.835, 0.87)),
         a_side="left", labels=None),
    dict(dates=("Sep/09", "Sep/10"), night=(0.19, 4.5),
         data=dict(T=t_0909, RH=rh_0909, O3=o3_0909, SO2=so2_0909, NO=no_0909, NO2=no2_0909,
                   N2O5=n2o5_0909, ClNO2=clno2_0909, A=a_0909), wind=(u_0909, v_0909),
         lims=dict(T=(20, 28, 2), RH=(40, 80, 10), O3=(0, 100, 50), SO2=(0, 80, 20), NO=(0, 2, 0.5),
                   NO2=(0, 100, 50), N2O5=(0, 150, 50), ClNO2=(0, 300, 100), A=(3000, 6000, 1000)),
         x=(934, 1307), rows=dict(wind=(11, 104), T=(114, 189), O3=(200, 264), NO=(275, 345), N2O5=(356, 438), A=(448, 518)),
         wind_lim=(-2.19, 2.24), shade_top=0.3, key_arrow=(0.118, 0.66), key_text=(0.137, 0.74),
         keys=dict(T=(0.08, 0.99), RH=(0.77, 0.99), O3=(0.074, 0.95), SO2=(0.78, 0.95), NO=(0.097, 0.97),
                   NO2=(0.235, 0.97), N2O5=(0.557, 0.95), ClNO2=(0.77, 0.95), A=(0.097, 0.90)),
         a_side="right", labels="right"),
    dict(dates=("Sep/12", "Sep/13"), night=(0.13, 4.5),
         data=dict(T=t_0912, RH=rh_0912, O3=o3_0912, SO2=so2_0912, NO=no_0912, NO2=no2_0912,
                   N2O5=n2o5_0912, ClNO2=clno2_0912, A=a_0912), wind=(u_0912, v_0912),
         lims=dict(T=(16, 22, 2), RH=(65, 85, 5), O3=(0, 60, 20), SO2=(0, 15, 5), NO=(0, 2, 1),
                   NO2=(0, 60, 20), N2O5=(0, 50, 10), ClNO2=(0, 800, 200), A=(3080, 7950, 2500)),
         x=(67, 438), rows=dict(wind=(576, 666), T=(677, 751), O3=(763, 827), NO=(839, 908), N2O5=(919, 1000), A=(1005, 1081)),
         wind_lim=(-2.19, 2.1), shade_top=0.4, key_arrow=(0.04, 0.66), key_text=(0.049, 0.73),
         keys=dict(T=(0.125, 1.12), RH=(0.565, 1.12), O3=(0.117, 1.05), SO2=(0.565, 0.97), NO=(0.143, 1.04),
                   NO2=(0.758, 0.94), N2O5=(0.283, 0.89), ClNO2=(0.762, 0.91), A=(0.125, 0.89)),
         a_side="left", labels="left"),
    dict(dates=("Sep/13", "Sep/14"), night=(0.17, 2.55),
         data=dict(T=t_0913, RH=rh_0913, O3=o3_0913, SO2=so2_0913, NO=no_0913, NO2=no2_0913,
                   N2O5=n2o5_0913, ClNO2=clno2_0913, A=a_0913), wind=(u_0913, v_0913),
         lims=dict(T=(20, 28, 2), RH=(45, 75.5, 10), O3=(0, 100, 50), SO2=(0, 60, 20), NO=(0, 1.2, 0.4),
                   NO2=(0, 80, 20), N2O5=(0, 250, 50), ClNO2=(0, 400, 200), A=(3070, 8000, 2500)),
         x=(507, 866), rows=dict(wind=(572, 664), T=(675, 749), O3=(761, 825), NO=(837, 906), N2O5=(917, 998), A=(1009, 1078)),
         wind_lim=(-2.19, 2.19), shade_top=0.4, key_arrow=(0.77, 0.67), key_text=(0.785, 0.80),
         keys=dict(T=(0.139, 1.07), RH=(0.714, 1.12), O3=(0.135, 0.98), SO2=(0.714, 0.92), NO=(0.158, 0.96),
                   NO2=(0.728, 0.88), N2O5=(0.464, 0.81), ClNO2=(0.719, 0.84), A=(0.765, 0.88)),
         a_side="left", labels=None),
    dict(dates=("Sep/20", "Sep/21"), night=(0.13, 3.9),
         data=dict(T=t_0920, RH=rh_0920, O3=o3_0920, SO2=so2_0920, NO=no_0920, NO2=no2_0920,
                   N2O5=n2o5_0920, ClNO2=clno2_0920, A=a_0920), wind=(u_0920, v_0920),
         lims=dict(T=(20, 26, 2), RH=(45, 75.4, 10), O3=(0, 80, 20), SO2=(0, 12, 4), NO=(0, 0.2, 0.1),
                   NO2=(0, 40, 20), N2O5=(0, 80, 20), ClNO2=(0, 300, 100), A=(3000, 6000, 1000)),
         x=(936, 1307), rows=dict(wind=(571, 662), T=(673, 749), O3=(760, 825), NO=(835, 901), N2O5=(912, 996), A=(1009, 1078)),
         wind_lim=(-2.1, 2.24), shade_top=0.0, key_arrow=(0.84, 0.66), key_text=(0.86, 0.74),
         keys=dict(T=(0.074, 1.05), RH=(0.715, 0.99), O3=(0.074, 1.12), SO2=(0.715, 1.12), NO=(0.087, 0.98),
                   NO2=(0.724, 1.04), N2O5=(0.065, 0.94), ClNO2=(0.724, 0.85), A=(0.078, 1.0)),
         a_side="right", labels="right"),
]

W, H = 1368, 1114
fig = plt.figure(figsize=(W / 100, H / 100), dpi=100)


def box(left, right, top, bottom):
    return [left / W, 1 - bottom / H, (right - left) / W, (bottom - top) / H]


def frame(pairs):
    return pd.DataFrame(pairs, columns=["hour", "value"])


def plot_series(ax, key, values):
    if key == "NO":
        df = pd.DataFrame({"hour": HOURS_NO, "value": values})
        sns.scatterplot(data=df, x="hour", y="value", ax=ax, s=5, color=COL[key], linewidth=0, legend=False, zorder=3)
    elif key == "NO2":
        df = frame(values)
        sns.lineplot(data=df, x="hour", y="value", ax=ax, color=NO2_BAND, lw=4.5, estimator=None, sort=False,
                     legend=False, solid_capstyle="round", solid_joinstyle="round")
        sns.lineplot(data=df, x="hour", y="value", ax=ax, color=COL[key], lw=1.2, estimator=None, sort=False, legend=False)
    else:
        sns.lineplot(data=frame(values), x="hour", y="value", ax=ax, color=COL[key], lw=LW[key],
                     estimator=None, sort=False, legend=False)
    ax.set_xlabel("")
    ax.set_ylabel("")


def style_y(ax, key, lim):
    lo, hi, step = lim
    ax.set_ylim(lo, hi)
    ax.yaxis.set_major_locator(MultipleLocator(step))
    ax.yaxis.set_minor_locator(AutoMinorLocator())
    ax.yaxis.set_major_formatter(FormatStrFormatter("%.1f" if step < 1 else "%g"))
    ax.tick_params(axis="y", which="both", direction="in", colors=TICK[key], width=1.1, pad=3)
    ax.tick_params(axis="y", which="major", length=5)
    ax.tick_params(axis="y", which="minor", length=2.5)


def handle(key):
    if key == "NO":
        return Line2D([], [], ls="none", marker="o", ms=2.6, color=COL[key])
    if key == "NO2":
        return Line2D([], [], color=COL[key], lw=1.4, marker="o", ms=6, mfc="none", mew=1)
    if key == "A":
        return Line2D([], [], color=COL[key], lw=1.6, marker="s", ms=5)
    return Line2D([], [], color=COL[key], lw=1.6)


def add_key(ax, key, pos):
    ax.legend(handles=[handle(key)], labels=[LABEL[key]], loc="center left", bbox_to_anchor=pos,
              frameon=False, borderpad=0, borderaxespad=0, handlelength=1.7, handletextpad=0.2,
              fontsize=11, labelcolor=[TICK[key]])


def hour_formatter(d0, d1):
    def fmt(h, pos):
        h = int(round(h))
        if h % 2 or h >= 12 or h < 0:
            return ""
        s = f"{(18 + h) % 24:02d}:00"
        if h == 0:
            s += "\n" + d0
        elif h == 6:
            s += "\n" + d1
        return s
    return FuncFormatter(fmt)


for p in PANELS:
    L, R = p["x"]
    rows = p["rows"]

    # --- wind sticks -------------------------------------------------------
    ax_w = fig.add_axes(box(L, R, *rows["wind"]))
    ax_w.set_facecolor("none")
    ax_w.set_xlim(0, 12)
    lo, hi = p["wind_lim"]
    ax_w.set_ylim(lo, hi)
    ax_w.axhline(0, color="#8391b3", lw=0.8, zorder=1)
    u, v = p["wind"]
    ax_w.quiver(HOURS_WIND, np.zeros(len(u)), u, v, angles="uv", scale_units="y", scale=1, pivot="tail",
                color=WIND, width=0.0042, headwidth=2.8, headlength=3.0, headaxislength=2.7,
                clip_on=False, zorder=3)
    # 1 m/s southerly reference arrow
    kx, ky = p["key_arrow"]
    tail = lo + ky * (hi - lo)
    key_trans = mtransforms.blended_transform_factory(ax_w.transAxes, ax_w.transData)
    ax_w.annotate("", xy=(kx, tail + 1.0), xytext=(kx, tail), xycoords=key_trans, textcoords=key_trans,
                  arrowprops=dict(arrowstyle="-|>", color=WIND, lw=1.6, mutation_scale=7, shrinkA=0, shrinkB=0))
    ax_w.text(*p["key_text"], "South wind\n(1m/s)", transform=ax_w.transAxes, ha="left", va="center",
              multialignment="center", color="#3b4c7a", fontsize=10.5)
    ax_w.spines["bottom"].set_visible(False)
    for s in ("top", "left", "right"):
        ax_w.spines[s].set_color("#34507e")
        ax_w.spines[s].set_linewidth(1.2)
    ax_w.xaxis.set_major_locator(MultipleLocator(1))
    ax_w.yaxis.set_major_locator(MultipleLocator(0.75))
    ax_w.tick_params(axis="x", top=True, bottom=False, labeltop=False, labelbottom=False,
                     direction="in", length=5, color="#222222", width=1.1)
    ax_w.tick_params(axis="y", left=True, right=True, labelleft=False, labelright=False,
                     direction="in", length=5, color="#34507e", width=1.1)

    # --- paired trace panels --------------------------------------------------
    for lk, rk in PAIRS:
        ax = fig.add_axes(box(L, R, *rows[lk]))
        ax2 = ax.twinx()
        for a in (ax, ax2):
            a.set_facecolor("none")
        plot_series(ax, lk, p["data"][lk])
        plot_series(ax2, rk, p["data"][rk])
        for a in (ax, ax2):
            a.set_xlim(0, 12)
            for s in ("top", "bottom"):
                a.spines[s].set_visible(False)
        ax.spines["right"].set_visible(False)
        ax2.spines["left"].set_visible(False)
        ax.spines["left"].set_color(TICK[lk])
        ax2.spines["right"].set_color(TICK[rk])
        ax.spines["left"].set_linewidth(1.3)
        ax2.spines["right"].set_linewidth(1.3)
        ax.tick_params(axis="x", bottom=False, labelbottom=False)
        style_y(ax, lk, p["lims"][lk])
        style_y(ax2, rk, p["lims"][rk])
        add_key(ax, lk, p["keys"][lk])
        add_key(ax2, rk, p["keys"][rk])
        if p["labels"] == "left":
            ax.set_ylabel(YLAB_LEFT[lk], color=TICK[lk], fontsize=11, labelpad=2)
        elif p["labels"] == "right":
            ax2.set_ylabel(YLAB_RIGHT[rk], color=TICK[rk], fontsize=11, rotation=270, va="bottom", labelpad=2)

    # --- aerosol surface area ------------------------------------------------
    ax_a = fig.add_axes(box(L, R, *rows["A"]))
    ax_a.set_facecolor("none")
    plot_series(ax_a, "A", p["data"]["A"])
    ax_a.set_xlim(0, 12)
    style_y(ax_a, "A", p["lims"]["A"])
    ax_a.yaxis.set_minor_locator(AutoMinorLocator(5 if p["lims"]["A"][2] == 2500 else 4))
    ax_a.tick_params(axis="y", which="both", left=True, right=True,
                     labelleft=p["a_side"] == "left", labelright=p["a_side"] == "right")
    ax_a.spines["top"].set_visible(False)
    for s in ("left", "right", "bottom"):
        ax_a.spines[s].set_color("#444444")
        ax_a.spines[s].set_linewidth(1.3)
    ax_a.xaxis.set_major_locator(MultipleLocator(1))
    ax_a.xaxis.set_major_formatter(hour_formatter(*p["dates"]))
    ax_a.tick_params(axis="x", direction="in", length=5, width=1.1, color="#333333",
                     labelcolor="#222222", labelsize=11, pad=4)
    add_key(ax_a, "A", p["keys"]["A"])
    if p["labels"] == "left":
        ax_a.set_ylabel(YLAB_LEFT["A"], color="#333333", fontsize=11, labelpad=2)
    elif p["labels"] == "right":
        ax_a.yaxis.set_label_position("right")
        ax_a.set_ylabel(YLAB_RIGHT["A"], color="#333333", fontsize=11, rotation=270, va="bottom", labelpad=2)

    # --- night-time shading over the whole stack -----------------------------
    t0, t1 = p["night"]
    y_top = fig.transFigure.inverted().transform(ax_w.transData.transform((0, p["shade_top"])))[1]
    y_bot = fig.transFigure.inverted().transform(ax_a.transAxes.transform((0, 0.03)))[1]
    trans = mtransforms.blended_transform_factory(ax_a.transData, fig.transFigure)
    fig.add_artist(Rectangle((t0, y_bot), t1 - t0, y_top - y_bot, transform=trans,
                             facecolor="#8a8a8a", alpha=0.45, edgecolor="none", zorder=10))

fig.savefig("out.png", dpi=100)
